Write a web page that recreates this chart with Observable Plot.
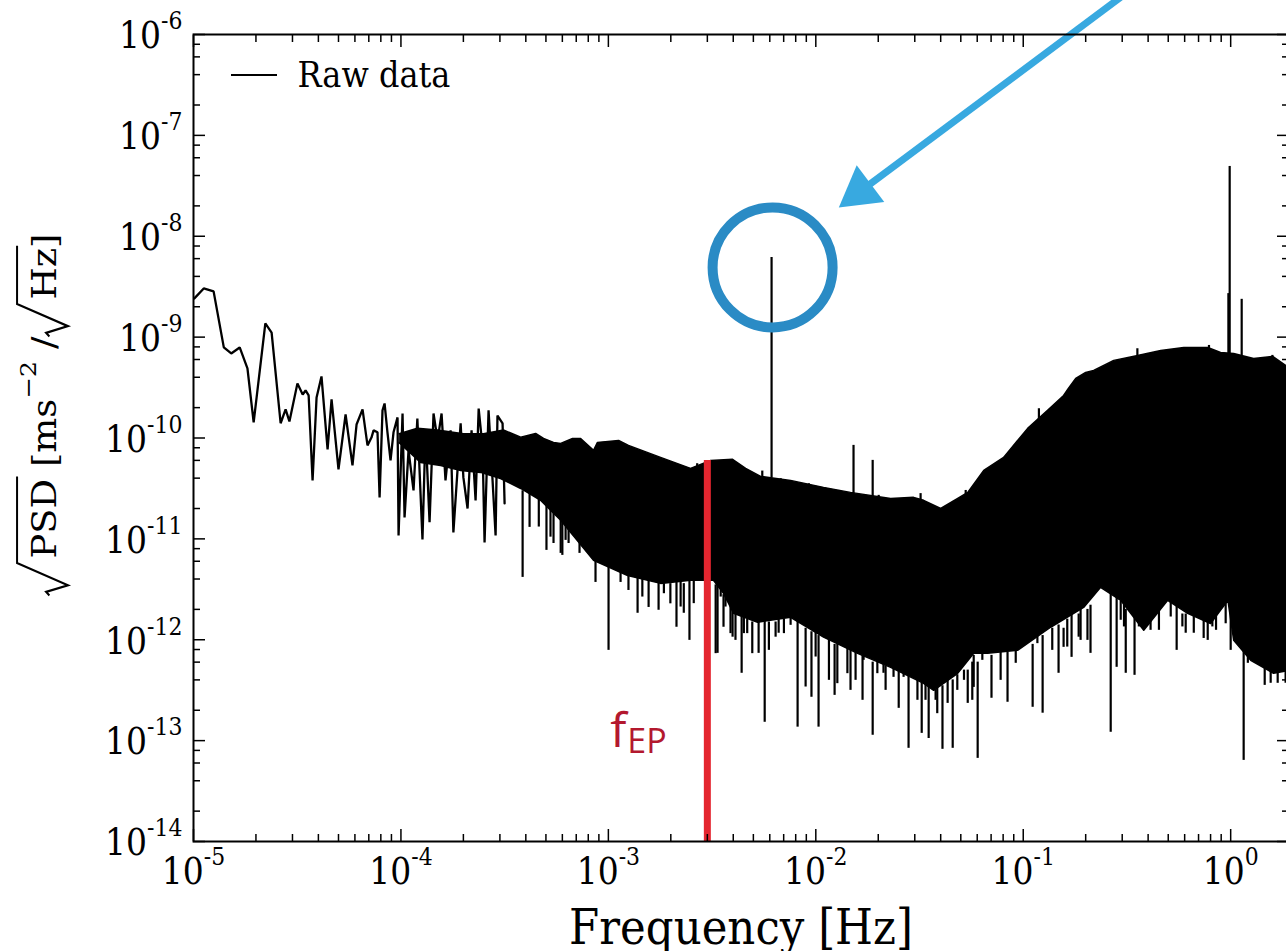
<!DOCTYPE html>
<html><head><meta charset="utf-8">
<script src="https://cdn.jsdelivr.net/npm/d3@7"></script>
<script src="https://cdn.jsdelivr.net/npm/@observablehq/plot@0.6"></script>
<style>body{margin:0;background:#fff;overflow:hidden} svg{display:block}</style>
</head><body><div id="chart"></div>
<script>
// ---------- data ----------
// sparse low-frequency part of the raw spectrum (line)
const rawFreq = [1.01e-5,1.12e-5,1.25e-5,1.40e-5,1.52e-5,1.67e-5,1.82e-5,1.95e-5,2.22e-5,2.38e-5,2.63e-5,2.78e-5,2.90e-5,3.17e-5,3.36e-5,3.47e-5,3.59e-5,3.75e-5,3.92e-5,4.14e-5,4.43e-5,4.63e-5,5.00e-5,5.41e-5,5.84e-5,6.11e-5,6.53e-5,6.90e-5,7.21e-5,7.38e-5,7.71e-5,7.89e-5,8.15e-5,8.34e-5,8.61e-5,8.91e-5,9.21e-5,9.63e-5,
  9.74e-5,1.018e-4,1.041e-4,1.088e-4,1.15e-4,1.20e-4,1.27e-4,1.314e-4,1.374e-4,1.436e-4,1.502e-4,1.57e-4,1.64e-4,1.735e-4,1.79e-4,1.94e-4,2.00e-4,2.095e-4,2.19e-4,2.29e-4,2.37e-4,2.475e-4,2.53e-4,2.645e-4,2.765e-4,2.86e-4,2.92e-4,3.09e-4,3.16e-4];
const rawPsd = [2.42e-9,3.04e-9,2.84e-9,7.91e-10,6.89e-10,7.90e-10,4.90e-10,1.43e-10,1.37e-9,1.11e-9,1.40e-10,1.92e-10,1.46e-10,3.48e-10,2.70e-10,2.96e-10,2.64e-10,3.80e-11,2.52e-10,4.08e-10,7.71e-11,2.41e-10,4.89e-11,1.71e-10,5.35e-11,1.36e-10,1.92e-10,8.45e-11,1.01e-10,1.19e-10,1.14e-10,2.58e-11,1.88e-10,2.20e-10,1.14e-10,6.00e-11,1.14e-10,1.60e-10,
  1.08e-11,1.75e-10,1.63e-11,7.54e-11,3.02e-11,1.56e-10,9.89e-12,1.19e-10,1.46e-11,1.75e-10,9.47e-11,1.75e-10,3.80e-11,1.19e-10,1.16e-11,1.40e-10,4.07e-11,2.00e-11,1.19e-10,2.41e-11,1.96e-10,8.07e-11,9.23e-12,1.88e-10,3.80e-11,1.08e-11,1.67e-10,1.40e-10,2.25e-11];

// dense part: upper envelope of the black band
const bandUpperFreq = [9.8e-5,1.2e-4,1.5e-4,2.0e-4,2.5e-4,3.12e-4,3.78e-4,4.46e-4,4.87e-4,5.44e-4,5.89e-4,6.72e-4,7.35e-4,8.48e-4,8.86e-4,1.12e-3,1.25e-3,1.785e-3,2.49e-3,3.11e-3,3.97e-3,4.59e-3,5.42e-3,7.56e-3,1.09e-2,1.47e-2,2.295e-2,2.96e-2,3.31e-2,4.00e-2,4.83e-2,5.40e-2,6.45e-2,8.04e-2,1.05e-1,1.31e-1,1.565e-1,1.65e-1,1.79e-1,2.0e-1,2.185e-1,2.73e-1,3.56e-1,4.60e-1,5.94e-1,7.75e-1,8.94e-1,1.034,1.29,1.594,1.9];
const bandUpperPsd = [1.1e-10,1.25e-10,1.2e-10,1.1e-10,1.1e-10,1.2e-10,1.02e-10,1.11e-10,9.9e-11,9.05e-11,8.84e-11,9.9e-11,9.9e-11,7.54e-11,9.05e-11,9.47e-11,8.45e-11,6.42e-11,5.0e-11,6.0e-11,6.14e-11,5.0e-11,4.16e-11,3.80e-11,3.24e-11,2.89e-11,2.52e-11,2.58e-11,2.41e-11,2.00e-11,2.52e-11,2.89e-11,4.77e-11,6.42e-11,1.245e-10,1.88e-10,2.64e-10,3.1e-10,3.9e-10,4.47e-10,4.68e-10,5.88e-10,6.59e-10,7.38e-10,7.90e-10,7.90e-10,7.05e-10,6.89e-10,6.15e-10,6.44e-10,5.01e-10];
// dense part: lower edge of the solid black band
const bandLowerFreq = [9.8e-5,1.243e-4,1.553e-4,1.94e-4,2.42e-4,3.02e-4,3.78e-4,4.71e-4,5.89e-4,8.48e-4,1.238e-3,1.785e-3,2.49e-3,3.21e-3,3.59e-3,4.01e-3,5.24e-3,7.56e-3,1.09e-2,1.59e-2,2.295e-2,3.31e-2,3.70e-2,4.83e-2,5.77e-2,6.73e-2,9.39e-2,1.355e-1,1.955e-1,2.36e-1,2.95e-1,3.81e-1,4.97e-1,6.2e-1,8.0e-1,9.7e-1,1.034,1.249,1.61,1.9];
const bandLowerPsd = [9e-11,5.73e-11,5.35e-11,4.77e-11,4.56e-11,3.97e-11,3.16e-11,2.41e-11,1.53e-11,6.12e-12,4.34e-12,3.62e-12,3.88e-12,3.88e-12,2.88e-12,1.83e-12,1.49e-12,1.67e-12,1.06e-12,7.33e-13,5.33e-13,3.70e-13,3.15e-13,4.65e-13,7.33e-13,7.33e-13,7.85e-13,1.33e-12,2.09e-12,3.31e-12,2.46e-12,1.24e-12,2.46e-12,1.83e-12,1.45e-12,2.46e-12,9.86e-13,6.25e-13,4.65e-13,4.97e-13];

// downward spikes below the band: frequency, lowest value, value where it joins the band
const dipFreq = [3.86e-4,4.17e-4,4.62e-4,5.03e-4,5.26e-4,5.44e-4,5.89e-4,6.0e-4,6.22e-4,6.43e-4,7.26e-4,8.67e-4,1.002e-3,1.145e-3,1.25e-3,1.383e-3,1.458e-3,1.563e-3,1.746e-3,1.852e-3,1.99e-3,2.13e-3,2.23e-3,2.31e-3,2.46e-3,2.58e-3,3.29e-3,3.36e-3,3.48e-3,3.59e-3,3.67e-3,3.88e-3,3.97e-3,4.10e-3,4.39e-3,4.50e-3,4.67e-3,4.94e-3,5.30e-3,5.67e-3,5.94e-3,6.40e-3,6.62e-3,7.02e-3,7.56e-3,8.17e-3,8.93e-3,9.53e-3,9.98e-3,1.031e-2,1.157e-2,1.232e-2,1.27e-2,1.42e-2,1.47e-2,1.555e-2,1.68e-2,1.70e-2,1.88e-2,1.98e-2,2.12e-2,2.17e-2,2.37e-2,2.51e-2,2.65e-2,2.80e-2,2.92e-2,3.09e-2,3.14e-2,3.24e-2,3.38e-2,3.50e-2,3.78e-2,3.85e-2,4.08e-2,4.32e-2,4.57e-2,4.81e-2,5.18e-2,5.40e-2,5.68e-2,5.77e-2,6.03e-2,6.35e-2,7.03e-2,7.78e-2,8.40e-2,9.2e-2,1.11e-1,1.17e-1,1.24e-1,1.38e-1,1.48e-1,1.565e-1,1.63e-1,1.71e-1,1.85e-1,1.89e-1,2.04e-1,2.11e-1,2.64e-1,2.82e-1,2.95e-1,3.06e-1,3.12e-1,3.44e-1,3.61e-1,4.11e-1,4.51e-1,5.14e-1,5.49e-1,5.85e-1,6.07e-1,6.64e-1,7.41e-1,7.75e-1,8.16e-1,8.5e-1,9.46e-1,1.0,1.155,1.21,1.35,1.459,1.559,1.685,1.84];
const dipLow = [4.15e-12,1.30e-11,1.31e-11,7.69e-12,1.04e-11,9.0e-12,7.18e-12,6.86e-12,9.66e-12,9.0e-12,7.18e-12,3.70e-12,7.85e-13,3.70e-12,3.08e-12,1.83e-12,2.65e-12,2.09e-12,1.96e-12,2.86e-12,2.27e-12,1.33e-12,2.11e-12,1.83e-12,9.86e-13,2.28e-12,7.28e-13,7.33e-13,2.65e-12,1.33e-12,2.11e-12,1.15e-12,1.06e-12,9.86e-13,4.65e-13,1.15e-12,1.15e-12,7.28e-13,7.33e-13,1.52e-13,7.85e-13,1.06e-12,1.16e-12,1.15e-12,1.39e-12,1.36e-13,3.40e-13,2.69e-13,6.74e-13,1.36e-13,3.96e-13,2.81e-13,3.67e-13,4.61e-13,3.15e-13,3.96e-13,2.51e-13,6.25e-13,1.13e-13,4.61e-13,4.65e-13,3.15e-13,4.24e-13,2.09e-13,4.24e-13,8.39e-14,4.27e-13,2.51e-13,3.96e-13,1.18e-13,2.51e-13,1.05e-13,2.51e-13,1.85e-13,8.2e-14,2.34e-13,8.39e-14,3.15e-13,3.96e-13,2.34e-13,2.51e-13,3.37e-13,6.67e-14,6.25e-13,2.63e-13,3.96e-13,2.40e-13,5.84e-13,2.14e-13,9.15e-13,1.87e-13,7.85e-13,4.65e-13,8.41e-13,8.46e-13,6.69e-13,1.06e-12,9.86e-13,9.86e-13,7.33e-13,1.21e-13,5.33e-13,1.56e-12,1.34e-12,4.65e-13,4.44e-13,1.34e-12,1.24e-12,1.24e-12,1.68e-12,7.85e-13,1.34e-12,1.16e-12,1.16e-12,1.03e-12,9.86e-13,1.34e-12,1.24e-12,1.44e-12,7.85e-13,6.37e-14,5.84e-13,5.84e-13,3.53e-13,3.70e-13,3.70e-13,3.70e-13];
const dipHigh = [3.0e-11,3.0e-11,2.6e-11,2.4e-11,2.2e-11,2.2e-11,1.6e-11,1.5e-11,1.5e-11,1.4e-11,1.2e-11,7e-12,6e-12,5e-12,5e-12,4.5e-12,4.2e-12,4e-12,4e-12,3.6e-12,3.6e-12,4e-12,3.8e-12,3.6e-12,4e-12,3.8e-12,3.5e-12,3.5e-12,3.5e-12,2.8e-12,2.8e-12,2.5e-12,2e-12,1.8e-12,2e-12,1.8e-12,1.6e-12,1.5e-12,1.6e-12,1.6e-12,1.5e-12,1.5e-12,1.8e-12,1.6e-12,1.8e-12,1.6e-12,1.3e-12,1.2e-12,1.2e-12,1.1e-12,1e-12,9e-13,9e-13,1.1e-12,8e-13,8e-13,7e-13,9e-13,6e-13,7e-13,7e-13,5.5e-13,6e-13,5e-13,6e-13,4.5e-13,5e-13,4.5e-13,4.5e-13,4e-13,4e-13,3.5e-13,3.2e-13,3.5e-13,3.5e-13,4.5e-13,4e-13,4.5e-13,5e-13,5e-13,6e-13,7e-13,6e-13,7.3e-13,7e-13,8e-13,7.5e-13,9e-13,9e-13,1.1e-12,1.1e-12,1.3e-12,1.4e-12,1.3e-12,1.6e-12,1.8e-12,1.8e-12,2e-12,2e-12,2.2e-12,3e-12,2.8e-12,2.4e-12,2.4e-12,2e-12,1.8e-12,2e-12,2e-12,2e-12,2.4e-12,2.2e-12,1.8e-12,1.8e-12,1.8e-12,1.8e-12,1.5e-12,1.8e-12,1.8e-12,2.4e-12,2e-12,1e-12,9e-13,9e-13,8e-13,5.5e-13,7e-13,5.5e-13];

// narrow lines rising above the band
const peakFreq = [2.68e-3,3.35e-3,4.50e-3,5.52e-3,6.12e-3,6.77e-3,9.26e-3,1.29e-2,1.52e-2,1.88e-2,2.01e-2,3.20e-2,5.28e-2,1.19e-1,3.55e-1,7.86e-1,0.975,0.989,1.13,1.589];
const peakTop  = [5.56e-11,5.35e-11,4.85e-11,4.70e-11,6.16e-9,3.95e-11,3.52e-11,3.02e-11,8.45e-11,6.0e-11,2.70e-11,2.81e-11,3.02e-11,1.95e-10,7.67e-10,8.27e-10,2.7e-9,4.92e-8,2.37e-9,6.59e-10];
const peakBase = [4e-11,4e-11,3.5e-11,3.5e-11,4e-11,3e-11,2.8e-11,2.4e-11,2.5e-11,2.5e-11,2.2e-11,2.0e-11,2.4e-11,1.5e-10,6e-10,7e-10,6e-10,6e-10,6e-10,5.5e-10];

// f_EP marker
const fEP = 0.003, fEPTop = 6e-11, fEPLabelPsd = 8e-14;
// annotation: circle around the 6 mHz line, arrow pointing at it
const circleAt = {f: 6.19e-3, v: 4.91e-9};
const arrowFrom = {f: 0.326, v: 2.73e-6};
const arrowHeadAt = {f: 0.01632, v: 2.77e-8};

// axes
const xDomain = [1e-5, 1.9], yDomain = [1e-14, 1e-6];
const xMajor = [1e-5,1e-4,1e-3,1e-2,1e-1,1];
const yMajor = [1e-14,1e-13,1e-12,1e-11,1e-10,1e-9,1e-8,1e-7,1e-6];
const xMinorSubs = [2,3,4,5,6,7,8,9];
const yMinorSubs = [2,4,6,8];
const xLabel = "Frequency [Hz]";
const legendLabel = "Raw data";

const xMinor = [];
for (const d of xMajor) for (const m of xMinorSubs) { const v = m*d; if (v <= xDomain[1]) xMinor.push(v); }
const yMinor = [];
for (const d of yMajor.slice(0,-1)) for (const m of yMinorSubs) yMinor.push(m*d);

const raw = rawFreq.map((f,i)=>({f, v: rawPsd[i]}));
const bandPoly = [
  ...bandUpperFreq.map((f,i)=>({f, v: bandUpperPsd[i]})),
  ...bandLowerFreq.map((f,i)=>({f, v: bandLowerPsd[i]})).reverse()
];
const dips = dipFreq.map((f,i)=>({f, lo: dipLow[i], hi: dipHigh[i]}));
const peaks = peakFreq.map((f,i)=>({f, top: peakTop[i], base: peakBase[i]}));

const serif = "DejaVu Serif";
const fmt = d => "10^" + Math.round(Math.log10(d));
const noLabel = () => "";

const chart = Plot.plot({
  width: 1286, height: 951,
  marginLeft: 193, marginRight: -2, marginTop: 34, marginBottom: 110,
  style: {background: "white", fontFamily: serif},
  x: {type: "log", domain: xDomain, label: null},
  y: {type: "log", domain: yDomain, label: null},
  marks: [
    Plot.line(bandPoly, {x: "f", y: "v", fill: "black", stroke: "black", strokeWidth: 1.5}),
    Plot.ruleX(dips, {x: "f", y1: "lo", y2: "hi", stroke: "black", strokeWidth: 2.2}),
    Plot.line(raw, {x: "f", y: "v", stroke: "black", strokeWidth: 2.3, strokeLinejoin: "miter"}),
    Plot.ruleX(peaks, {x: "f", y1: "base", y2: "top", stroke: "black", strokeWidth: 2.2}),
    Plot.ruleX([fEP], {y1: yDomain[0], y2: fEPTop, stroke: "#e4262f", strokeWidth: 7}),
    Plot.text([{f: fEP, v: fEPLabelPsd}], {x: "f", y: "v", text: () => "f", textAnchor: "start", lineAnchor: "middle", dx: -97, dy: -19, fontSize: 48, fontFamily: "Open Sans", fill: "#b3182e"}),
    Plot.text([{f: fEP, v: fEPLabelPsd}], {x: "f", y: "v", text: () => "EP", textAnchor: "start", lineAnchor: "middle", dx: -80, dy: -8, fontSize: 34, fontFamily: "Open Sans", fill: "#b3182e"}),
    Plot.link([{a: arrowFrom, b: arrowHeadAt}], {x1: d => d.a.f, y1: d => d.a.v, x2: d => d.b.f, y2: d => d.b.v, stroke: "#38a9e0", strokeWidth: 7}),
    Plot.dot([arrowHeadAt], {x: "f", y: "v", symbol: "triangle", r: 17, rotate: 233, fill: "#38a9e0", stroke: "none"}),
    Plot.dot([circleAt], {x: "f", y: "v", r: 60, stroke: "#2a8bc5", strokeWidth: 10, fill: "none"}),
    Plot.frame({stroke: "black", strokeWidth: 2}),
    Plot.axisX(xMajor, {anchor: "bottom", tickSize: -12, tickFormat: noLabel, strokeWidth: 1.5, label: null}),
    Plot.axisX(xMinor, {anchor: "bottom", tickSize: -7, tickFormat: noLabel, strokeWidth: 1.5, label: null}),
    Plot.axisX(xMajor, {anchor: "top", tickSize: -12, tickFormat: noLabel, strokeWidth: 1.5, label: null}),
    Plot.axisX(xMinor, {anchor: "top", tickSize: -7, tickFormat: noLabel, strokeWidth: 1.5, label: null}),
    Plot.axisY(yMajor, {anchor: "left", tickSize: -12, tickFormat: noLabel, strokeWidth: 1.5, label: null}),
    Plot.axisY(yMinor, {anchor: "left", tickSize: -7, tickFormat: noLabel, strokeWidth: 1.5, label: null}),
    Plot.axisY(yMajor, {anchor: "right", tickSize: -12, tickFormat: noLabel, strokeWidth: 1.5, label: null}),
    Plot.axisY(yMinor, {anchor: "right", tickSize: -7, tickFormat: noLabel, strokeWidth: 1.5, label: null}),
    Plot.axisX(xMajor, {anchor: "bottom", tickSize: 0, tickPadding: 16, tickFormat: fmt, fontSize: 33, fontFamily: serif, label: null}),
    Plot.axisY(yMajor, {anchor: "left", tickSize: 0, tickPadding: 11, tickFormat: fmt, fontSize: 33, fontFamily: serif, dy: 2, label: null}),
    Plot.text([xLabel], {frameAnchor: "bottom", lineAnchor: "middle", text: d => d, dy: 87, fontSize: 43.5, fontFamily: serif, fill: "black"}),
    Plot.text([legendLabel], {frameAnchor: "top-left", lineAnchor: "middle", text: d => d, textAnchor: "start", dx: 104, dy: 41, fontSize: 32, fontFamily: serif, fill: "black"})
  ]
});
document.getElementById("chart").appendChild(chart);

const svg = d3.select(chart);
const stretch = 1.12;
// superscript exponents on tick labels
svg.selectAll('g[aria-label="x-axis tick label"] text, g[aria-label="y-axis tick label"] text').each(function() {
  const s = this.textContent;
  if (!s.includes("^")) return;
  const [b, e] = s.split("^");
  const t = d3.select(this);
  t.text(null);
  t.append("tspan").text(b);
  t.append("tspan").attr("font-size", 22).attr("dy", -17).text(e);
  t.attr("transform", (t.attr("transform") || "") + ` scale(1,${stretch})`);
});
// stretch serif texts (legend, x label)
svg.selectAll('g[aria-label="text"] text').each(function() {
  const t = d3.select(this);
  const ff = t.attr("font-family") || d3.select(this.parentNode).attr("font-family") || "";
  if (ff.includes("Open Sans")) return;
  t.attr("transform", (t.attr("transform") || "") + ` scale(1,${stretch})`);
});
// legend swatch
svg.append("line").attr("x1", 231).attr("x2", 277).attr("y1", 75).attr("y2", 75).attr("stroke", "black").attr("stroke-width", 2);

// y axis label with radicals and superscript
const fs = 33;
const yl = svg.append("g").attr("transform", `translate(56,433) rotate(-90) scale(${stretch},1)`);
const yt = yl.append("text").attr("text-anchor", "middle").attr("font-family", serif).attr("font-size", fs).attr("fill", "black");
yt.append("tspan").attr("dx", fs).text("PSD");
yt.append("tspan").text("\u00a0[ms");
yt.append("tspan").attr("font-size", 23).attr("dy", -20).text("\u22122");
yt.append("tspan").attr("dy", 20).text("\u00a0/");
yt.append("tspan").attr("dx", fs).text("Hz");
yt.append("tspan").text("]");
const node = yt.node();
function radical(xs, xe) {
  const em = fs;
  return `M${xs-1.0*em},${-0.2*em} L${xs-0.9*em},${-0.3*em} L${xs-0.72*em},${0.36*em} L${xs-0.12*em},${-1.18*em} L${xe+0.06*em},${-1.18*em}`;
}
const s1 = node.getStartPositionOfChar(0).x, e1 = node.getEndPositionOfChar(2).x;
const s2 = node.getStartPositionOfChar(11).x, e2 = node.getEndPositionOfChar(12).x;
yl.append("path").attr("d", radical(s1, e1) + " " + radical(s2, e2)).attr("fill", "none").attr("stroke", "black").attr("stroke-width", 2);
</script>
</body></html>
